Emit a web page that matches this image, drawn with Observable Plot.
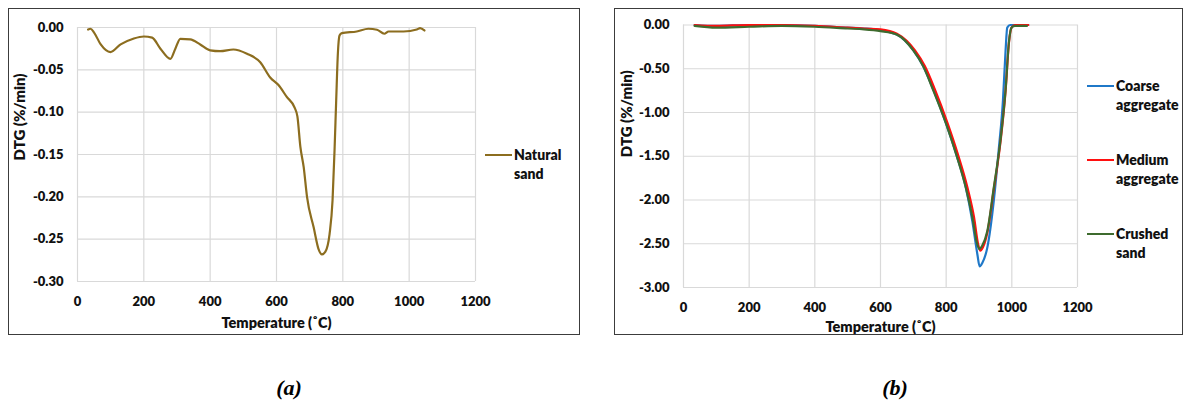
<!DOCTYPE html>
<html><head><meta charset="utf-8">
<script src="https://cdn.jsdelivr.net/npm/d3@7"></script>
<script src="https://cdn.jsdelivr.net/npm/@observablehq/plot@0.6"></script>
<style>
body{margin:0;width:1183px;height:403px;background:#fff;position:relative;overflow:hidden;font-family:Lato,"Open Sans",sans-serif}
.frame{position:absolute;border:1.5px solid #3c3c3c;box-sizing:border-box}
.chart{position:absolute}
.leg{position:absolute;font:800 14px Lato,sans-serif;color:#111;line-height:19px}
.leg .sw{position:absolute;left:0;top:9px;width:27px;height:2px}
.leg .tx{position:absolute;left:29px;top:0;white-space:nowrap}
.cap{position:absolute;font:bold italic 22px "Liberation Serif",serif;color:#000;transform:translate(-50%,-50%)}
</style></head>
<body>
<script>
// ---------- data ----------
const xTicks = [0, 200, 400, 600, 800, 1000, 1200];
const yTicksA = [0, -0.05, -0.10, -0.15, -0.20, -0.25, -0.30];
const yTicksB = [0, -0.5, -1.0, -1.5, -2.0, -2.5, -3.0];

const naturalT = [32, 39, 50, 70, 99, 130, 170, 200, 225, 250, 280, 295, 310, 340, 370, 400, 430, 470, 511, 551, 581, 606, 631, 655, 663, 672, 682, 692, 712, 727, 737, 747, 760, 769, 775, 780, 785, 790, 797, 842, 877, 903, 925, 938, 983, 1023, 1033, 1046];
const naturalV = [-0.0024, -0.0015, -0.006, -0.02, -0.029, -0.02, -0.013, -0.0106, -0.012, -0.025, -0.037, -0.025, -0.0134, -0.014, -0.02, -0.027, -0.028, -0.026, -0.031, -0.041, -0.059, -0.068, -0.082, -0.095, -0.105, -0.141, -0.165, -0.2, -0.236, -0.262, -0.268, -0.265, -0.244, -0.204, -0.145, -0.086, -0.031, -0.0095, -0.0067, -0.0047, -0.0015, -0.0027, -0.0074, -0.0047, -0.0047, -0.0024, -0.0008, -0.0035];

const coarseT = [34, 100, 200, 300, 400, 500, 550, 600, 650, 700, 730, 760, 800, 830, 860, 880, 895, 902, 910, 925, 945, 960, 973, 981, 986, 995, 1050];
const coarseV = [0, -0.01, 0, 0, -0.01, -0.03, -0.04, -0.06, -0.11, -0.29, -0.47, -0.73, -1.13, -1.47, -1.86, -2.25, -2.62, -2.76, -2.72, -2.55, -2.01, -1.43, -0.86, -0.29, -0.03, 0, 0];
const mediumT = [34, 100, 200, 300, 400, 500, 550, 600, 650, 705, 735, 765, 805, 835, 865, 885, 897, 904, 912, 925, 945, 966, 981, 991, 999, 1010, 1050];
const mediumV = [0, -0.01, 0, 0, -0.01, -0.03, -0.04, -0.05, -0.10, -0.29, -0.47, -0.73, -1.13, -1.47, -1.86, -2.20, -2.50, -2.58, -2.54, -2.38, -1.88, -1.32, -0.75, -0.21, -0.03, 0, 0];
const crushedT = [34, 100, 200, 300, 400, 500, 550, 600, 650, 700, 730, 760, 800, 830, 860, 880, 893, 901, 910, 925, 945, 966, 981, 991, 999, 1010, 1046];
const crushedV = [-0.01, -0.03, -0.02, -0.01, -0.02, -0.04, -0.05, -0.07, -0.11, -0.29, -0.47, -0.74, -1.13, -1.47, -1.86, -2.20, -2.48, -2.56, -2.52, -2.36, -1.86, -1.30, -0.74, -0.20, -0.03, -0.01, -0.01];

const seriesA = [{name: "Natural\nsand", T: naturalT, V: naturalV, color: "#8C6D1F"}];
const seriesB = [
  {name: "Coarse\naggregate", T: coarseT, V: coarseV, color: "#1F78C8"},
  {name: "Medium\naggregate", T: mediumT, V: mediumV, color: "#FF1010"},
  {name: "Crushed\nsand", T: crushedT, V: crushedV, color: "#3E6B2E"}
];
const xTitle = "Temperature (˚C)";
const yTitle = "DTG (%/min)";

// ---------- helpers ----------
const fmt = v => v === 0 ? "0.00" : v.toFixed(2);
function rows(s) { return s.T.map((t, i) => ({T: t, V: s.V[i], s: s.name})); }

function panel({left, top, width, height, mL, mT, mB, mR, yTicks, yDom, series, legLeft, legTops, yTitleDx, yTitleDy, xTitleDy}) {
  const frame = document.createElement("div");
  frame.className = "frame";
  Object.assign(frame.style, {left: left + "px", top: top + "px", width: width + "px", height: height + "px"});
  document.body.appendChild(frame);

  const tickFont = {fontSize: 13, fontWeight: 800, fill: "#111"};
  const marks = [
    Plot.gridX(xTicks, {stroke: "#d9d9d9", strokeOpacity: 1, strokeWidth: 1.2}),
    Plot.gridY(yTicks, {stroke: "#d9d9d9", strokeOpacity: 1, strokeWidth: 1.2}),
    Plot.axisX(xTicks, {tickSize: 0, tickPadding: 15, ...tickFont, tickFormat: d => String(d), label: null}),
    Plot.axisY(yTicks, {tickSize: 0, tickPadding: 14, ...tickFont, tickFormat: fmt, label: null}),
    Plot.text([xTitle], {frameAnchor: "bottom", dy: xTitleDy, lineAnchor: "middle", fontSize: 14.5, fontWeight: 800, fill: "#111"}),
    Plot.text([yTitle], {frameAnchor: "left", dx: yTitleDx, dy: yTitleDy, rotate: -90, lineAnchor: "middle", fontSize: 15, fontWeight: 800, fill: "#111"})
  ];
  for (const s of series) {
    marks.push(Plot.line(rows(s), {x: "T", y: "V", stroke: s.color, strokeWidth: 2.2, curve: "monotone-x"}));
  }
  const chart = Plot.plot({
    width, height,
    marginLeft: mL, marginTop: mT, marginBottom: mB, marginRight: mR,
    style: {fontFamily: "Lato, sans-serif", background: "transparent", overflow: "visible"},
    x: {domain: [0, 1200]},
    y: {domain: yDom},
    marks
  });
  chart.classList.add("chart");
  chart.style.left = left + "px";
  chart.style.top = top + "px";
  document.body.appendChild(chart);

  series.forEach((s, i) => {
    const d = document.createElement("div");
    d.className = "leg";
    d.style.left = legLeft + "px";
    d.style.top = (legTops[i] - 10) + "px";
    const sw = document.createElement("div");
    sw.className = "sw"; sw.style.background = s.color;
    const tx = document.createElement("div");
    tx.className = "tx"; tx.innerHTML = s.name.replace("\n", "<br>");
    d.appendChild(sw); d.appendChild(tx);
    document.body.appendChild(d);
  });
}

panel({left: 8, top: 8, width: 572, height: 327, mL: 69, mT: 19, mB: 54, mR: 105,
  yTicks: yTicksA, yDom: [-0.30, 0], series: seriesA, legLeft: 485, legTops: [155],
  yTitleDx: -57, yTitleDy: 6, xTitleDy: 42});
panel({left: 614, top: 8, width: 569, height: 327, mL: 69, mT: 16.5, mB: 48, mR: 106,
  yTicks: yTicksB, yDom: [-3.0, 0], series: seriesB, legLeft: 1087, legTops: [86, 160, 234],
  yTitleDx: -56, yTitleDy: 1, xTitleDy: 40});

for (const [t, x] of [["(a)", 289], ["(b)", 895]]) {
  const c = document.createElement("div");
  c.className = "cap"; c.textContent = t;
  c.style.left = x + "px"; c.style.top = "388px";
  document.body.appendChild(c);
}
</script>
</body></html>
